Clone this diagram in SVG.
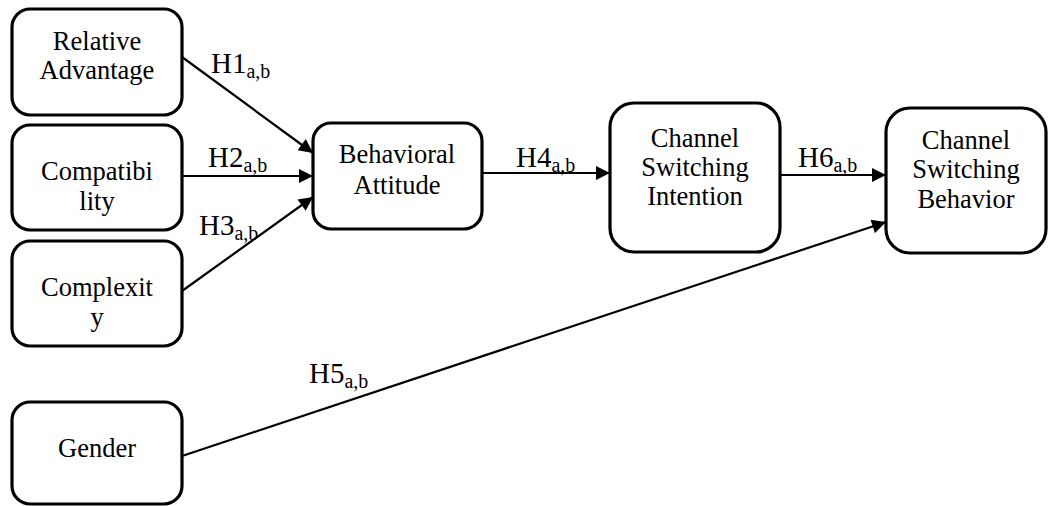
<svg xmlns="http://www.w3.org/2000/svg" width="1048" height="506" viewBox="0 0 1048 506">
  <style>
    .box { fill: #fff; stroke: #000; stroke-width: 3.2; }
    .lbl { font-family: 'Liberation Serif', Tinos, 'Times New Roman', serif; font-size: 26.5px; fill: #000; text-anchor: middle; }
    .hyp { font-family: 'Liberation Serif', Tinos, 'Times New Roman', serif; font-size: 29px; fill: #000; }
    .sub { font-size: 20px; }
    .edge { stroke: #000; stroke-width: 2.2; fill: none; marker-end: url(#arrow); }
  </style>
  <defs>
    <marker id="arrow" viewBox="0 0 10 10" refX="10" refY="5" markerUnits="userSpaceOnUse" markerWidth="16" markerHeight="14" orient="auto">
      <path d="M0,0 L10,5 L0,10 Z" fill="#000"/>
    </marker>
  </defs>

  <!-- connectors with their hypothesis labels -->
  <g id="connectors">
    <line class="edge" x1="182" y1="57" x2="313" y2="153"/>
    <line class="edge" x1="182" y1="176" x2="313" y2="176"/>
    <line class="edge" x1="182" y1="291" x2="313" y2="197"/>
    <line class="edge" x1="482" y1="173" x2="610" y2="173"/>
    <line class="edge" x1="780" y1="175" x2="886" y2="175"/>
    <line class="edge" x1="182" y1="456" x2="886" y2="222"/>
    <g id="hypotheses">
      <text class="hyp" x="211" y="73">H1<tspan class="sub" dy="5">a,b</tspan></text>
      <text class="hyp" x="208" y="167">H2<tspan class="sub" dy="5">a,b</tspan></text>
      <text class="hyp" x="199" y="235">H3<tspan class="sub" dy="5">a,b</tspan></text>
      <text class="hyp" x="516" y="167">H4<tspan class="sub" dy="5">a,b</tspan></text>
      <text class="hyp" x="309" y="383">H5<tspan class="sub" dy="5">a,b</tspan></text>
      <text class="hyp" x="798" y="167">H6<tspan class="sub" dy="5">a,b</tspan></text>
    </g>
  </g>

  <g id="relative-advantage">
    <rect class="box" x="12" y="9" width="170" height="106" rx="18"/>
    <text class="lbl" x="97" y="50">Relative</text>
    <text class="lbl" x="97" y="79">Advantage</text>
  </g>

  <g id="compatibility">
    <rect class="box" x="12" y="125" width="170" height="105" rx="18"/>
    <text class="lbl" x="97" y="180">Compatibi</text>
    <text class="lbl" x="97" y="210">lity</text>
  </g>

  <g id="complexity">
    <rect class="box" x="12" y="241" width="170" height="105" rx="18"/>
    <text class="lbl" x="97" y="296">Complexit</text>
    <text class="lbl" x="97" y="326">y</text>
  </g>

  <g id="gender">
    <rect class="box" x="12" y="402" width="170" height="102" rx="18"/>
    <text class="lbl" x="97" y="457">Gender</text>
  </g>

  <g id="behavioral-attitude">
    <rect class="box" x="313" y="123" width="169" height="106" rx="18"/>
    <text class="lbl" x="397" y="163">Behavioral</text>
    <text class="lbl" x="397" y="194">Attitude</text>
  </g>

  <g id="channel-switching-intention">
    <rect class="box" x="610" y="103" width="170" height="149" rx="24"/>
    <text class="lbl" x="695" y="147">Channel</text>
    <text class="lbl" x="695" y="176">Switching</text>
    <text class="lbl" x="695" y="205">Intention</text>
  </g>

  <g id="channel-switching-behavior">
    <rect class="box" x="886" y="108" width="160" height="145" rx="24"/>
    <text class="lbl" x="966" y="149">Channel</text>
    <text class="lbl" x="966" y="178">Switching</text>
    <text class="lbl" x="966" y="208">Behavior</text>
  </g>
</svg>
